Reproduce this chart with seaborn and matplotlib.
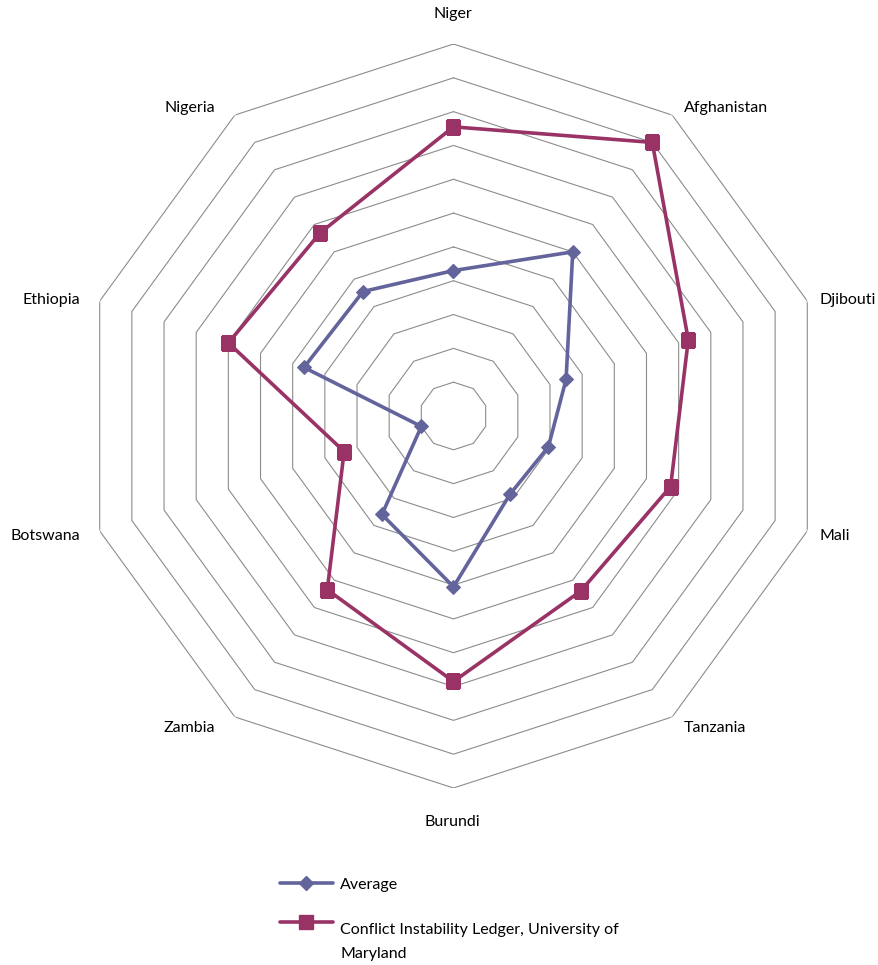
import numpy as np
import pandas as pd
import matplotlib
matplotlib.use("Agg")
import matplotlib.pyplot as plt
from matplotlib.lines import Line2D
import seaborn as sns

countries = ["Niger", "Afghanistan", "Djibouti", "Mali", "Tanzania",
             "Burundi", "Zambia", "Botswana", "Ethiopia", "Nigeria"]
average = [4.3, 6.0, 3.5, 2.95, 2.85, 5.05, 3.6, 1.0, 4.65, 4.55]
ledger = [8.55, 10.0, 7.3, 6.75, 6.4, 7.85, 6.35, 3.4, 7.0, 6.7]
series_names = ["Average", "Conflict Instability Ledger, University of\nMaryland"]
n_rings = 11

BLUE = "#64649c"
RED = "#993366"
GRID = "#8c8c8c"

W, H = 879, 965

angles = np.linspace(0, 2 * np.pi, len(countries), endpoint=False)
theta_closed = np.append(angles, 2 * np.pi)


def closed_frame(values):
    return pd.DataFrame({"theta": theta_closed, "value": list(values) + [values[0]]})


sns.set_theme(style="white")
plt.rcParams["font.family"] = ["Lato", "DejaVu Sans"]
plt.rcParams["text.color"] = "black"

fig = plt.figure(figsize=(W / 100, H / 100), dpi=100)
ax = fig.add_axes([81.5 / W, 1 - 788 / H, 744 / W, 744 / H], projection="polar")
ax.set_theta_offset(np.pi / 2)
ax.set_theta_direction(-1)
ax.set_ylim(0, n_rings)
ax.grid(False)
ax.spines["polar"].set_visible(False)
ax.set_xticks([])
ax.set_yticks([])
ax.set_facecolor("white")

# polygon rings instead of circles
for k in range(1, n_rings + 1):
    ax.plot(theta_closed, [k] * len(theta_closed), color=GRID, lw=0.8, zorder=1)

sns.lineplot(data=closed_frame(average), x="theta", y="value", sort=False,
             estimator=None, color=BLUE, lw=2.6, marker="D", markersize=7.5,
             markeredgecolor=BLUE, ax=ax, zorder=3)
sns.lineplot(data=closed_frame(ledger), x="theta", y="value", sort=False,
             estimator=None, color=RED, lw=2.6, marker="s", markersize=10.5,
             markeredgecolor=RED, ax=ax, zorder=4)
ax.set_xlabel("")
ax.set_ylabel("")

# category labels outside the outer ring
for name, a in zip(countries, angles):
    s, c = np.sin(a), np.cos(a)
    if s > 0.1:
        ha, dx, dy = "left", 12, 11 * c - 2
    elif s < -0.1:
        ha, dx, dy = "right", -20, 11 * c - 2
    else:
        ha, dx, dy = "center", -1, 30 if c > 0 else -34
    ax.annotate(name, xy=(a, n_rings), xytext=(dx, dy), textcoords="offset pixels",
                ha=ha, va="center", fontsize=11.5, color="black", annotation_clip=False)

# legend drawn below the chart
for color, marker, ms, y_px in [(BLUE, "D", 7.5, 883), (RED, "s", 10.5, 922)]:
    fig.add_artist(Line2D([280 / W, 306.5 / W, 333 / W], [1 - y_px / H] * 3,
                          color=color, lw=2.6, marker=marker, markersize=ms,
                          markeredgecolor=color, markevery=[1]))
fig.text(340 / W, 1 - 885 / H, series_names[0], ha="left", va="center",
         fontsize=11.5, color="black")
fig.text(340 / W, 1 - 942 / H, series_names[1], ha="left", va="center",
         fontsize=11.5, linespacing=1.9, color="black")

fig.savefig("out.png", dpi=100, facecolor="white")
